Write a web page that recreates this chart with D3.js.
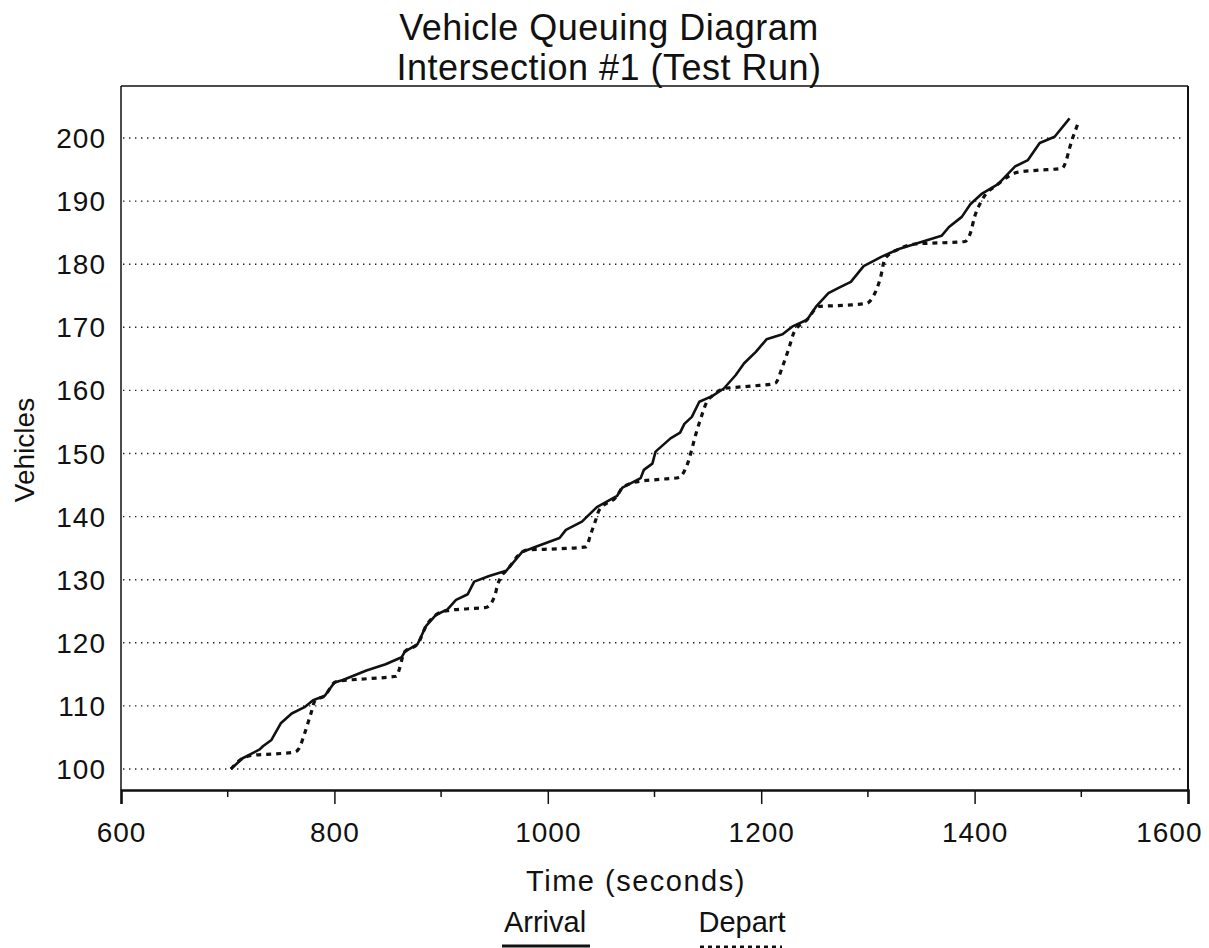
<!DOCTYPE html>
<html>
<head>
<meta charset="utf-8">
<script src="https://cdn.jsdelivr.net/npm/d3@7"></script>
<style>
  body { margin: 0; background: #fff; }
  text { font-family: "Liberation Sans", Arial, Helvetica, sans-serif; fill: #111; }
</style>
</head>
<body>
<svg id="chart"></svg>
<script>
// arrival curve
const arrivalTime = [703, 714, 730, 733, 741, 750, 760, 772, 780, 791, 800, 808, 830, 848, 863, 866, 878, 886, 895, 906,
  914, 925, 931, 945, 961, 976, 990, 1011, 1017, 1032, 1046, 1065, 1070, 1087, 1090, 1098, 1101, 1115, 1124, 1128,
  1135, 1142, 1154, 1165, 1176, 1184, 1195, 1205, 1220, 1229, 1243, 1252, 1263, 1273, 1284, 1296, 1313, 1329, 1344, 1369,
  1376, 1388, 1396, 1407, 1422, 1438, 1450, 1461, 1475, 1489];
const arrivalCount = [100, 101.7, 103.1, 103.6, 104.6, 107.3, 108.8, 109.8, 110.9, 111.6, 113.7, 114.1, 115.6, 116.6, 117.7, 118.6, 119.8, 122.7, 124.4, 125.3,
  126.8, 127.7, 129.7, 130.6, 131.4, 134.4, 135.3, 136.6, 137.9, 139.2, 141.5, 143.3, 144.6, 146.1, 147.4, 148.4, 150.3, 152.4, 153.3, 154.7,
  155.8, 158.2, 159.1, 160.3, 162.4, 164.3, 166.1, 168.1, 168.9, 170.1, 171.2, 173.4, 175.4, 176.3, 177.2, 179.7, 181.2, 182.4, 183.2, 184.5,
  185.9, 187.5, 189.5, 191.2, 192.7, 195.5, 196.5, 199.2, 200.2, 203.1];

// departure curve (flat during red, steep during green)
const departTime = [703, 714, 725, 745, 763, 767, 772, 778, 782, 791, 800, 803, 830, 858, 861, 864, 866, 878, 886, 895,
  906, 925, 942, 950, 953, 957, 961, 976, 980, 1010, 1036, 1040, 1045, 1048, 1065, 1070, 1086, 1105, 1123, 1131,
  1139, 1145, 1149, 1154, 1165, 1170, 1192, 1213, 1220, 1226, 1231, 1243, 1254, 1280, 1299, 1305, 1312, 1316, 1329, 1344,
  1370, 1391, 1396, 1400, 1407, 1422, 1441, 1460, 1482, 1486, 1489, 1494, 1497];
const departCount = [100, 101.7, 102.2, 102.4, 102.7, 103.3, 105.6, 108.8, 110.9, 111.6, 113.7, 113.9, 114.3, 114.7, 115.9, 117.8, 118.6, 119.8, 122.7, 124.4,
  125.1, 125.4, 125.6, 127.3, 129.2, 130.7, 131.4, 134.4, 134.7, 134.9, 135.2, 137.1, 139.5, 141.0, 143.3, 144.6, 145.6, 145.9, 146.2, 148.4,
  153.2, 156.4, 158.2, 159.1, 160.3, 160.4, 160.7, 161.1, 163.8, 166.7, 169.3, 171.2, 173.3, 173.5, 173.8, 174.9, 178.0, 180.9, 182.4, 183.2,
  183.4, 183.6, 184.9, 187.5, 190.2, 192.7, 194.6, 194.9, 195.2, 196.5, 198.4, 201, 202.3];

const xTicks = [600, 800, 1000, 1200, 1400, 1600];
const xMinorTicks = [700, 900, 1100, 1300, 1500];
const yTicks = [100, 110, 120, 130, 140, 150, 160, 170, 180, 190, 200];

const titleLines = ['Vehicle Queuing Diagram', 'Intersection #1 (Test Run)'];
const legendItems = ['Arrival', 'Depart'];

const width = 1209;
const height = 948;
const plotLeft = 121, plotRight = 1188, plotTop = 86, plotBottom = 790;

const svg = d3.select('#chart')
  .attr('width', width)
  .attr('height', height);

const x = d3.scaleLinear().domain([600, 1600]).range([plotLeft, plotRight]);
const y = d3.scaleLinear().domain([100, 200]).range([769, 138]);

// dotted gridlines
svg.append('g')
  .selectAll('line')
  .data(yTicks)
  .join('line')
  .attr('x1', plotLeft + 2)
  .attr('x2', plotRight - 6)
  .attr('y1', d => y(d))
  .attr('y2', d => y(d))
  .attr('stroke', '#222')
  .attr('stroke-width', 1.4)
  .attr('stroke-dasharray', '1.4,4.6');

// frame
svg.append('line').attr('x1', plotLeft).attr('x2', plotRight).attr('y1', plotTop).attr('y2', plotTop)
  .attr('stroke', '#111').attr('stroke-width', 1.5);
svg.append('line').attr('x1', plotLeft).attr('x2', plotLeft).attr('y1', plotTop).attr('y2', plotBottom)
  .attr('stroke', '#111').attr('stroke-width', 1.5);
svg.append('line').attr('x1', plotRight).attr('x2', plotRight).attr('y1', plotTop).attr('y2', plotBottom)
  .attr('stroke', '#111').attr('stroke-width', 2);

// x axis
const xAxis = svg.append('g')
  .attr('transform', `translate(0,${plotBottom})`)
  .call(d3.axisBottom(x).tickValues(xTicks).tickSize(14).tickPadding(18).tickFormat(d3.format('d')));
xAxis.select('.domain').attr('stroke', '#111').attr('stroke-width', 2.5);
xAxis.selectAll('.tick line').attr('stroke', '#111').attr('stroke-width', 1.5);
xAxis.selectAll('.tick text')
  .style('font-family', '"Liberation Sans", Arial, sans-serif')
  .style('font-size', '28px')
  .style('letter-spacing', '1px')
  .attr('fill', '#111');
xAxis.selectAll('.tick text').filter(d => d === 1600)
  .attr('text-anchor', 'end')
  .attr('dx', 14);

svg.append('g')
  .selectAll('line')
  .data(xMinorTicks)
  .join('line')
  .attr('x1', d => x(d))
  .attr('x2', d => x(d))
  .attr('y1', plotBottom)
  .attr('y2', plotBottom + 7)
  .attr('stroke', '#111')
  .attr('stroke-width', 1.5);

// y labels
svg.append('g')
  .selectAll('text')
  .data(yTicks)
  .join('text')
  .attr('x', 106)
  .attr('y', d => y(d))
  .attr('dy', '0.36em')
  .attr('text-anchor', 'end')
  .style('font-size', '28px')
  .style('letter-spacing', '1px')
  .text(d => d);

// curves
const line = d3.line()
  .x(d => x(d[0]))
  .y(d => y(d[1]));

svg.append('path')
  .datum(departTime.map((t, i) => [t, departCount[i]]))
  .attr('d', line.curve(d3.curveMonotoneX))
  .attr('fill', 'none')
  .attr('stroke', '#111')
  .attr('stroke-width', 3.2)
  .attr('stroke-dasharray', '5,5');

svg.append('path')
  .datum(arrivalTime.map((t, i) => [t, arrivalCount[i]]))
  .attr('d', line.curve(d3.curveLinear))
  .attr('fill', 'none')
  .attr('stroke', '#111')
  .attr('stroke-width', 2.6)
  .attr('stroke-linejoin', 'round');

// titles
svg.append('g')
  .selectAll('text')
  .data(titleLines)
  .join('text')
  .attr('x', 609)
  .attr('y', (d, i) => 40 + i * 40)
  .attr('text-anchor', 'middle')
  .style('font-size', '36px')
  .style('letter-spacing', '0.5px')
  .text(d => d);

svg.append('text')
  .attr('x', 636)
  .attr('y', 891)
  .attr('text-anchor', 'middle')
  .style('font-size', '29px')
  .style('letter-spacing', '1.5px')
  .text('Time (seconds)');

svg.append('text')
  .attr('transform', 'translate(34,450) rotate(-90)')
  .attr('text-anchor', 'middle')
  .style('font-size', '28px')
  .text('Vehicles');

// legend
const legendX = [545, 742];
svg.append('g')
  .selectAll('text')
  .data(legendItems)
  .join('text')
  .attr('x', (d, i) => legendX[i])
  .attr('y', 932)
  .attr('text-anchor', 'middle')
  .style('font-size', '29px')
  .text(d => d);

svg.append('line')
  .attr('x1', 502).attr('x2', 590).attr('y1', 946).attr('y2', 946)
  .attr('stroke', '#111').attr('stroke-width', 3);
svg.append('line')
  .attr('x1', 700).attr('x2', 782).attr('y1', 947).attr('y2', 947)
  .attr('stroke', '#111').attr('stroke-width', 3).attr('stroke-dasharray', '4,4');
</script>
</body>
</html>
